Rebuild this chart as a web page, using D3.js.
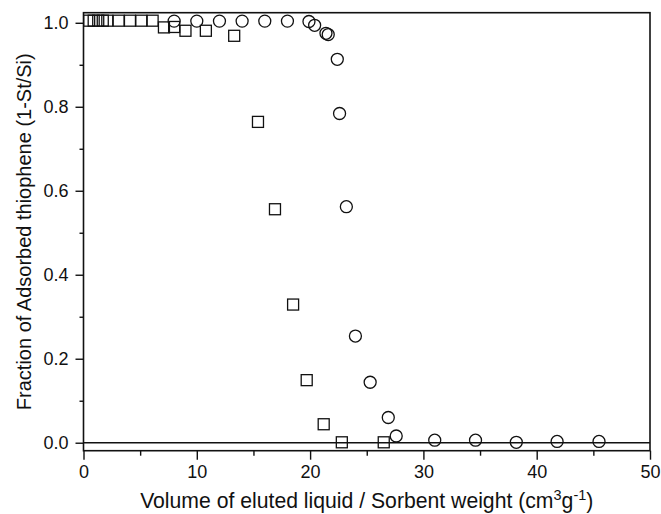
<!DOCTYPE html>
<html>
<head>
<meta charset="utf-8">
<script src="https://cdn.jsdelivr.net/npm/d3@7"></script>
<style>
  html, body { margin: 0; padding: 0; background: #fff; }
  svg { display: block; font-family: "Liberation Sans", Arial, sans-serif; }
</style>
</head>
<body>
<svg id="chart" width="661" height="514"></svg>
<script>
// breakthrough curves — circles and squares
const circleX = [8.0, 10.0, 12.0, 14.0, 16.0, 18.0, 19.9, 20.4, 21.4, 21.6, 22.4, 22.6, 23.2, 24.0, 25.3, 26.9, 27.6, 31.0, 34.6, 38.2, 41.8, 45.5];
const circleY = [1.004, 1.004, 1.004, 1.004, 1.004, 1.004, 1.003, 0.994, 0.975, 0.972, 0.913, 0.784, 0.562, 0.254, 0.144, 0.060, 0.016, 0.006, 0.006, 0.001, 0.003, 0.003];
const squareX = [0.5, 0.9, 1.3, 1.7, 2.1, 3.1, 4.1, 5.1, 6.1, 7.1, 8.0, 9.0, 10.8, 13.3, 15.4, 16.9, 18.5, 19.7, 21.2, 22.8, 26.5];
const squareY = [1.005, 1.005, 1.005, 1.005, 1.005, 1.005, 1.005, 1.005, 1.005, 0.989, 0.990, 0.981, 0.981, 0.969, 0.764, 0.556, 0.329, 0.149, 0.044, 0.001, 0.001];
const xTicks = [0, 10, 20, 30, 40, 50];
const yTicks = [0.0, 0.2, 0.4, 0.6, 0.8, 1.0];

const svg = d3.select("#chart");
const L = 83.5, R = 650, T = 12.7, B = 450.7;
const x = d3.scaleLinear([0, 50], [L, R]);
const y = d3.scaleLinear([-0.019, 1.024], [B, T]);
const INK = "#111";

// frame
svg.append("rect").attr("x", L).attr("y", T).attr("width", R - L).attr("height", B - T)
  .attr("fill", "none").attr("stroke", INK).attr("stroke-width", 1.6);

// zero line
svg.append("line").attr("x1", L).attr("x2", R).attr("y1", y(0)).attr("y2", y(0))
  .attr("stroke", INK).attr("stroke-width", 1.4);

// minor ticks
svg.append("g").attr("transform", `translate(0,${B})`)
  .call(d3.axisBottom(x).tickValues(d3.range(5, 50, 10)).tickSize(5).tickFormat(""))
  .call((g) => g.select(".domain").remove())
  .selectAll("line").attr("stroke", INK).attr("stroke-width", 1.4);
svg.append("g").attr("transform", `translate(${L},0)`)
  .call(d3.axisLeft(y).tickValues(d3.range(0.1, 1.0, 0.2)).tickSize(4).tickFormat(""))
  .call((g) => g.select(".domain").remove())
  .selectAll("line").attr("stroke", INK).attr("stroke-width", 1.4);

// major ticks + labels
const gx = svg.append("g").attr("transform", `translate(0,${B})`)
  .call(d3.axisBottom(x).tickValues(xTicks).tickSize(9).tickPadding(6).tickFormat(d3.format("d")));
const gy = svg.append("g").attr("transform", `translate(${L},0)`)
  .call(d3.axisLeft(y).tickValues(yTicks).tickSize(8).tickPadding(7).tickFormat(d3.format(".1f")));
[gx, gy].forEach((g) => {
  g.select(".domain").remove();
  g.selectAll("line").attr("stroke", INK).attr("stroke-width", 1.4);
  g.selectAll("text").attr("fill", INK).attr("font-size", 18)
    .attr("font-family", "'Liberation Sans', Arial, sans-serif");
});

// markers
svg.append("g").selectAll("circle").data(circleX).join("circle")
  .attr("cx", (d) => x(d)).attr("cy", (d, i) => y(circleY[i])).attr("r", 6)
  .attr("fill", "none").attr("stroke", INK).attr("stroke-width", 1.3);
const s = 11;
svg.append("g").selectAll("rect").data(squareX).join("rect")
  .attr("x", (d) => x(d) - s / 2).attr("y", (d, i) => y(squareY[i]) - s / 2)
  .attr("width", s).attr("height", s)
  .attr("fill", "none").attr("stroke", INK).attr("stroke-width", 1.3);

// axis titles
const xt = svg.append("text").attr("x", (L + R) / 2).attr("y", 508)
  .attr("text-anchor", "middle").attr("font-size", 21.2).attr("fill", INK);
xt.append("tspan").text("Volume of eluted liquid / Sorbent weight (cm");
xt.append("tspan").attr("font-size", 14.5).attr("dy", -8).text("3");
xt.append("tspan").attr("dy", 8).text("g");
xt.append("tspan").attr("font-size", 14.5).attr("dy", -8).text("-1");
xt.append("tspan").attr("dy", 8).text(")");

svg.append("text").attr("transform", `translate(31,${(T + B) / 2}) rotate(-90)`)
  .attr("text-anchor", "middle").attr("font-size", 20).attr("fill", INK)
  .text("Fraction of Adsorbed thiophene (1-St/Si)");
</script>
</body>
</html>
